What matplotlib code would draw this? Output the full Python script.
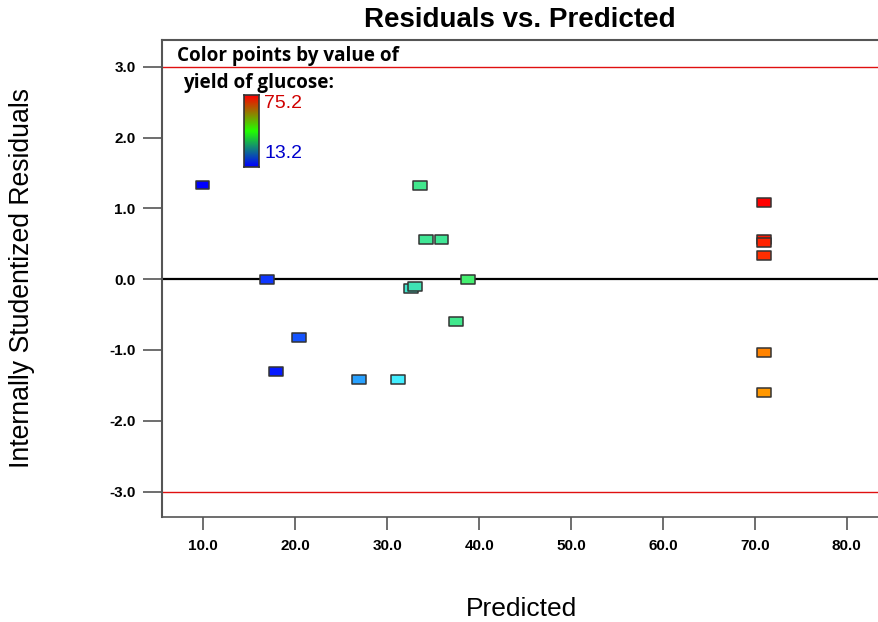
import numpy as np
import matplotlib
matplotlib.use('Agg')
import matplotlib.pyplot as plt
from matplotlib.colors import LinearSegmentedColormap, Normalize
from matplotlib.path import Path

# predicted value, internally studentized residual, actual yield (for colour)
predicted = [9.9, 16.9, 20.4, 17.9, 26.9, 31.2, 33.6, 34.2, 35.9, 32.6, 33.0,
             38.8, 37.5, 71.0, 71.0, 71.0, 71.0, 71.0, 71.0]
residuals = [1.33, 0.0, -0.82, -1.30, -1.42, -1.42, 1.32, 0.56, 0.56, -0.13, -0.10,
             0.0, -0.60, 1.08, 0.56, 0.52, 0.335, -1.035, -1.60]
yields = [13.2, 17.0, 19.0, 15.0, 24.0, 31.0, 36.0, 35.5, 35.5, 33.0, 34.0,
          38.0, 36.0, 75.2, 73.0, 72.0, 71.0, 63.0, 60.0]
y_ticks = [3.0, 2.0, 1.0, 0.0, -1.0, -2.0, -3.0]
x_ticks = [10, 20, 30, 40, 50, 60, 70, 80]
y_min, y_max = 13.2, 75.2

point_cmap = LinearSegmentedColormap.from_list(
    'pts', [(0.0, '#0000ff'), (0.18, '#2aa8ff'), (0.29, '#44f0ff'),
            (0.34, '#3ee0a8'), (0.40, '#44f070'), (0.75, '#ff9a00'),
            (0.85, '#ff7000'), (0.93, '#ff3000'), (1.0, '#ff0000')])
bar_cmap = LinearSegmentedColormap.from_list('bar', ['#0000ff', '#22ff00', '#ff0000'])

fig = plt.figure(figsize=(8.79, 6.22), dpi=100)
W, H = 879, 622
ax = fig.add_axes([162 / W, 1 - 517 / H, 1 - 162 / W, (517 - 40) / H])
ax.set_xlim(5.5, 83.5)
ax.set_ylim(-3.36, 3.38)

ax.axhline(0, color='black', lw=1.6, zorder=1)
ax.axhline(3.0, color='#e01010', lw=1.0, zorder=1)
ax.axhline(-3.0, color='#e01010', lw=1.0, zorder=1)

rect = Path([(-1, -0.62), (1, -0.62), (1, 0.62), (-1, 0.62), (-1, -0.62)],
            [Path.MOVETO, Path.LINETO, Path.LINETO, Path.LINETO, Path.CLOSEPOLY])
norm = Normalize(y_min, y_max)
ax.scatter(predicted, residuals, s=100, marker=rect, c=[point_cmap(norm(v)) for v in yields],
           edgecolors='#333333', linewidths=1.1, zorder=3)

for side in ['left', 'top']:
    ax.spines[side].set_color('#555555')
    ax.spines[side].set_linewidth(1.5)
ax.spines['bottom'].set_color('#555555')
ax.spines['bottom'].set_linewidth(1.2)
ax.spines['right'].set_visible(False)

tick_font = dict(family='Liberation Sans', weight='bold', size=11)
ax.set_yticks(y_ticks)
ax.set_yticklabels([f'{t:.1f}' for t in y_ticks], **tick_font)
ax.set_xticks(x_ticks)
ax.set_xticklabels([f'{t:.1f}' for t in x_ticks], **tick_font)
ax.tick_params(axis='y', length=14, width=1.2, color='#555555', pad=5)
ax.tick_params(axis='x', length=9.5, width=1.2, color='#555555', pad=6)

fig.text(520 / W, 1 - 20 / H, 'Residuals vs. Predicted', ha='center', va='center',
         family='Liberation Sans', weight='bold', size=20)
fig.text(22 / W, 1 - 278 / H, 'Internally Studentized Residuals', ha='center', va='center',
         rotation=90, family='Liberation Sans', size=19.2)
fig.text(522 / W, 1 - 609 / H, 'Predicted', ha='center', va='center',
         family='Liberation Sans', size=19)

# colour key
fig.text(177 / W, 1 - 56 / H, 'Color points by value of', ha='left', va='center',
         family='Open Sans', weight='bold', size=13.6)
fig.text(183 / W, 1 - 83 / H, 'yield of glucose:', ha='left', va='center',
         family='Open Sans', weight='bold', size=13.6)
cax = fig.add_axes([244 / W, 1 - 167 / H, 15 / W, 72 / H])
cax.imshow(np.linspace(0, 1, 100).reshape(-1, 1), cmap=bar_cmap, origin='lower',
           aspect='auto', extent=[0, 1, 0, 1])
cax.set_xticks([])
cax.set_yticks([])
for sp in cax.spines.values():
    sp.set_color('#333333')
    sp.set_linewidth(1.2)
fig.text(264 / W, 1 - 104 / H, f'{y_max:.1f}', ha='left', va='center',
         family='Liberation Sans', size=14, color='#d00000')
fig.text(264 / W, 1 - 153 / H, f'{y_min:.1f}', ha='left', va='center',
         family='Liberation Sans', size=14, color='#0000cc')

fig.savefig('out.png', dpi=100)
